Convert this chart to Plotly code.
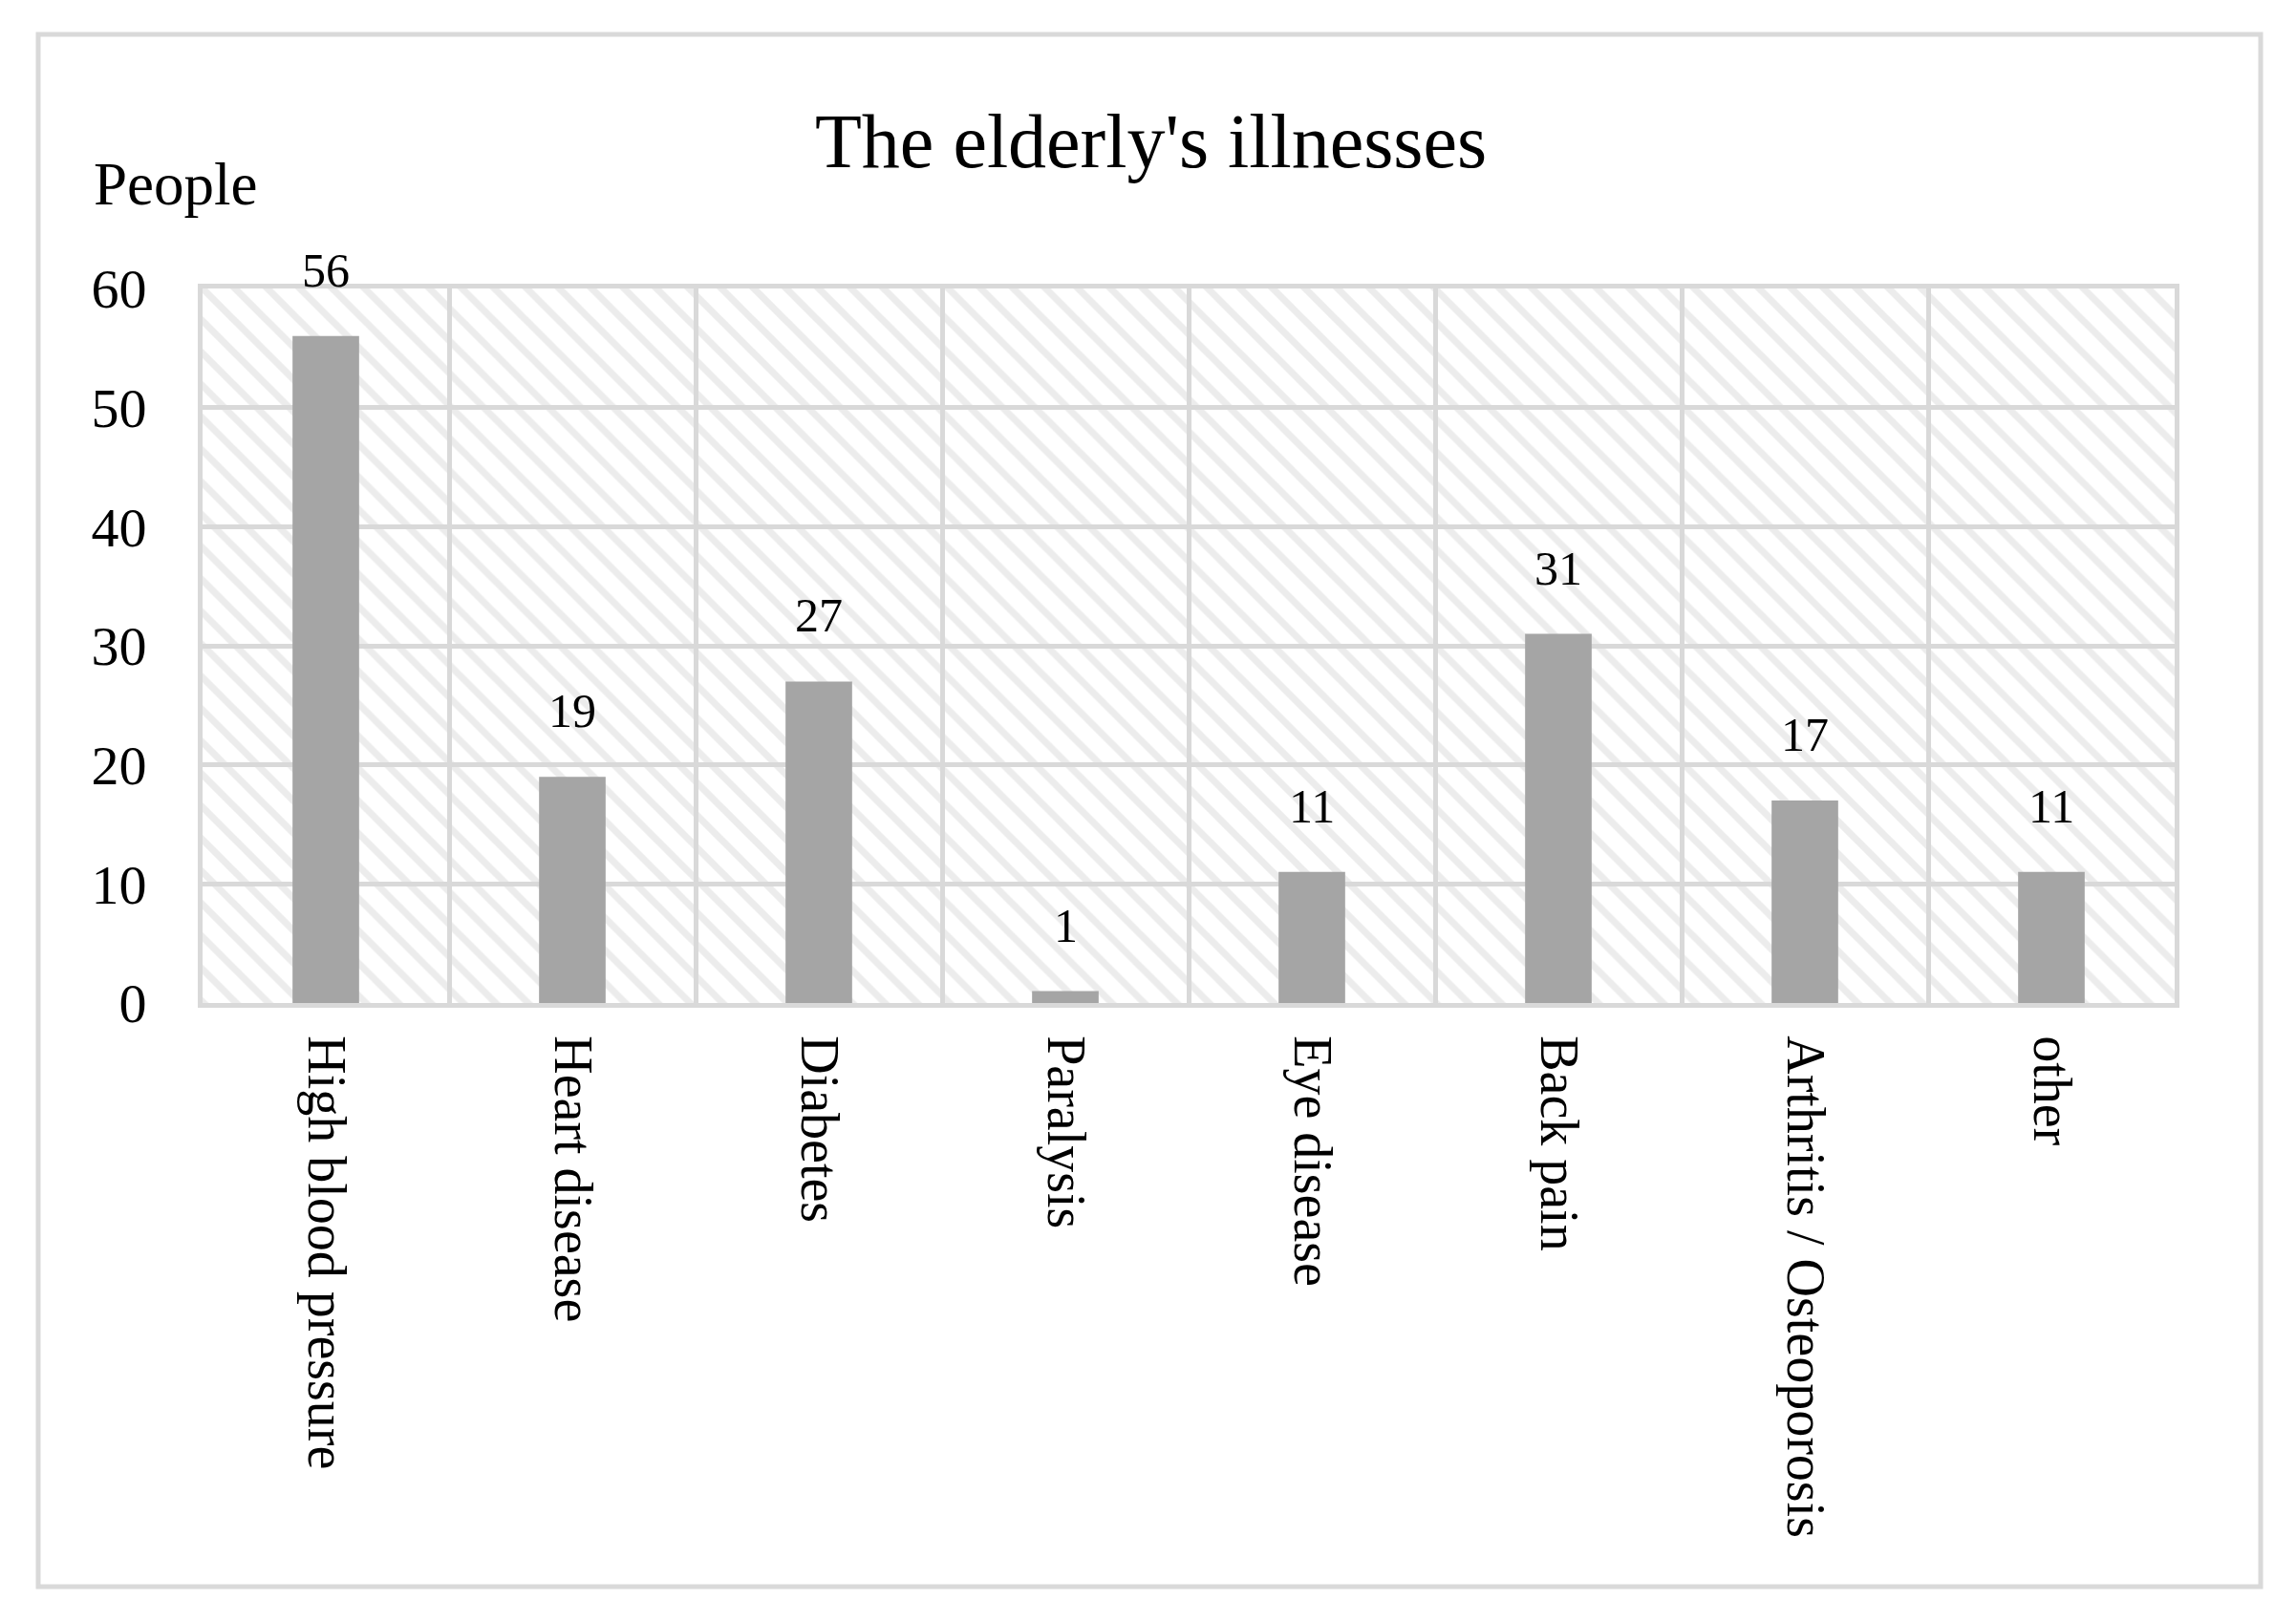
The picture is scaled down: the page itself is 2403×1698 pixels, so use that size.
import plotly.graph_objects as go

categories = ["High blood pressure", "Heart disease", "Diabetes", "Paralysis",
              "Eye disease", "Back pain", "Arthritis / Osteoporosis", "other"]
values = [56, 19, 27, 1, 11, 31, 17, 11]
y_ticks = [0, 10, 20, 30, 40, 50, 60]
Y_MAX = 60

FONT = "Liberation Serif"
GRID = "#d9d9d9"
OFF = 8  # page body margin
W, H = 2403 - 2 * OFF, 1698 - 2 * OFF
L = 212 - OFF
T = 302 - OFF
R = W - (2276 - OFF)
B = H - (1050 - OFF)
PW, PH = W - L - R, H - T - B


def px_x(p):
    return (p - OFF - L) / PW


def px_y(p):
    return (H - B - (p - OFF)) / PH


fig = go.Figure()

# hatched plot background
fig.add_trace(go.Bar(
    x=categories, y=[Y_MAX] * len(categories), width=1,
    marker=dict(color="rgba(0,0,0,0)", line=dict(width=0),
                pattern=dict(shape="\\", fgcolor="#d9d9d9", bgcolor="rgba(0,0,0,0)",
                             size=24, solidity=0.3)),
    hoverinfo="skip", showlegend=False,
))

fig.add_trace(go.Bar(
    x=categories, y=values, width=0.27,
    marker=dict(color="#a5a5a5", line=dict(width=0)),
    showlegend=False, hoverinfo="skip",
))

annotations = []
for c, v in zip(categories, values):
    annotations.append(dict(x=c, y=v, xref="x", yref="y", text=str(v), showarrow=False,
                            yanchor="middle", yshift=69,
                            font=dict(family=FONT, size=50, color="black")))

annotations.append(dict(x=px_x(1204), y=px_y(148), xref="paper", yref="paper",
                        text="The elderly's illnesses", showarrow=False,
                        xanchor="center", yanchor="middle",
                        font=dict(family=FONT, size=80, color="black")))
annotations.append(dict(x=px_x(96), y=px_y(193), xref="paper", yref="paper",
                        text="People", showarrow=False,
                        xanchor="left", yanchor="middle",
                        font=dict(family=FONT, size=63, color="black")))

fig.update_layout(
    width=W, height=H,
    margin=dict(l=L, r=R, t=T, b=B),
    paper_bgcolor="white", plot_bgcolor="white",
    barmode="overlay",
    annotations=annotations,
    shapes=[dict(type="rect", xref="paper", yref="paper",
                 x0=px_x(40), x1=px_x(2366), y0=px_y(1661), y1=px_y(36),
                 line=dict(color=GRID, width=5), fillcolor="rgba(0,0,0,0)", layer="below")],
)

fig.update_xaxes(
    type="category", tickson="boundaries", showgrid=True, gridcolor=GRID, gridwidth=5,
    showline=True, mirror=True, linecolor=GRID, linewidth=5,
    ticks="", tickangle=90, ticklabelstandoff=18,
    tickfont=dict(family=FONT, size=56, color="black"),
    fixedrange=True,
)
fig.update_yaxes(
    range=[0, Y_MAX], tickvals=y_ticks, showgrid=True, gridcolor=GRID, gridwidth=5,
    showline=True, mirror=True, linecolor=GRID, linewidth=5, zeroline=False,
    ticks="", ticklabelstandoff=42,
    tickfont=dict(family=FONT, size=58, color="black"),
    fixedrange=True,
)

fig.write_html("out.html")
